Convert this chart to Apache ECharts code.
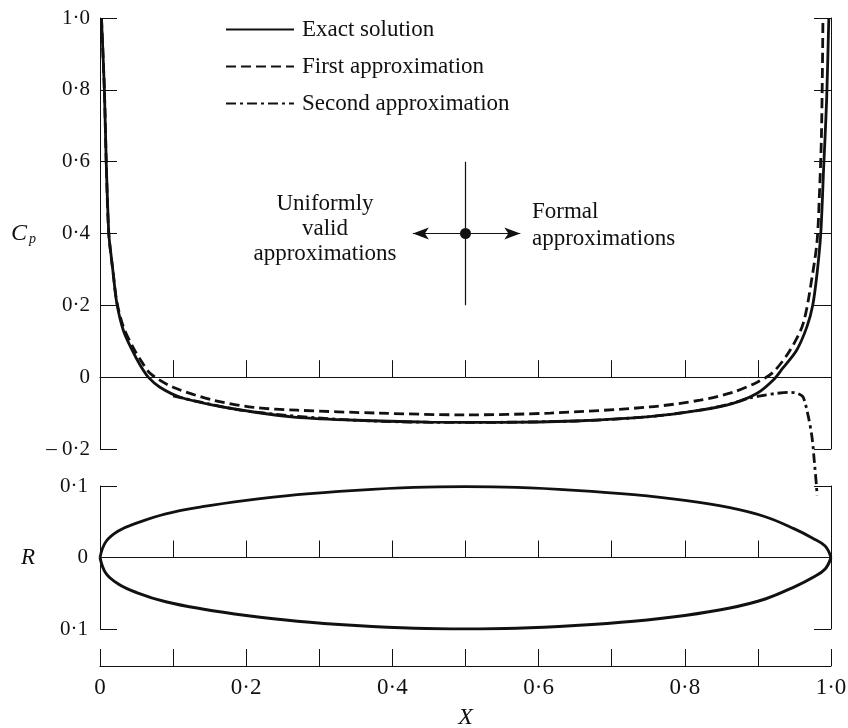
<!DOCTYPE html>
<html>
<head>
<meta charset="utf-8">
<script src="https://cdn.jsdelivr.net/npm/echarts@6/dist/echarts.min.js"></script>
<style>
  html, body { margin: 0; padding: 0; background: #fff; }
  #chart { width: 848px; height: 728px; }
</style>
</head>
<body>
<div id="chart"></div>
<script>
// pressure coefficient curves
const exactX = [0.002, 0.006, 0.0085, 0.012, 0.014, 0.018, 0.023, 0.032, 0.044, 0.055, 0.066, 0.082, 0.11, 0.155, 0.21, 0.265, 0.35, 0.45, 0.55, 0.65, 0.752, 0.821, 0.866, 0.899, 0.921, 0.934, 0.953, 0.967, 0.975, 0.981, 0.986, 0.99, 0.994, 0.997];
const exactCp = [1.0, 0.8, 0.6, 0.4, 0.36, 0.29, 0.206, 0.13, 0.075, 0.033, 0.0, -0.028, -0.056, -0.078, -0.097, -0.111, -0.12, -0.125, -0.126, -0.122, -0.11, -0.092, -0.073, -0.045, -0.008, 0.025, 0.075, 0.14, 0.2, 0.29, 0.4, 0.585, 0.77, 1.0];

const firstX = [0.002, 0.006, 0.0085, 0.012, 0.018, 0.023, 0.032, 0.046, 0.057, 0.069, 0.1, 0.155, 0.21, 0.27, 0.38, 0.5, 0.616, 0.752, 0.821, 0.866, 0.899, 0.921, 0.944, 0.962, 0.975, 0.981, 0.984, 0.987, 0.989];
const firstCp = [1.0, 0.8, 0.6, 0.4, 0.29, 0.21, 0.14, 0.08, 0.043, 0.01, -0.028, -0.064, -0.084, -0.092, -0.1, -0.105, -0.1, -0.083, -0.064, -0.042, -0.014, 0.014, 0.075, 0.15, 0.29, 0.38, 0.5, 0.68, 1.0];

const secondX = [0.1, 0.2, 0.35, 0.5, 0.65, 0.752, 0.821, 0.844, 0.866, 0.889, 0.91, 0.926, 0.944, 0.955, 0.962, 0.969, 0.974, 0.977, 0.98, 0.981];
const secondCp = [-0.052, -0.094, -0.12, -0.126, -0.122, -0.11, -0.092, -0.083, -0.072, -0.058, -0.05, -0.045, -0.042, -0.046, -0.056, -0.11, -0.167, -0.23, -0.3, -0.33];

// body radius
const rX = [0, 0.008, 0.025, 0.05, 0.09, 0.14, 0.2, 0.27, 0.35, 0.43, 0.5, 0.57, 0.65, 0.73, 0.8, 0.86, 0.91, 0.95, 0.975, 0.992, 1.0];
const rUpper = [0, 0.022, 0.037, 0.048, 0.061, 0.071, 0.08, 0.088, 0.094, 0.098, 0.099, 0.098, 0.094, 0.088, 0.08, 0.07, 0.057, 0.04, 0.027, 0.016, 0];
const rLower = [0, -0.022, -0.037, -0.049, -0.062, -0.072, -0.081, -0.089, -0.095, -0.099, -0.1, -0.099, -0.095, -0.089, -0.081, -0.071, -0.058, -0.041, -0.028, -0.016, 0];

// the cross in the middle of the Cp panel
const crossV = [[0.5, 0.2], [0.5, 0.6]];
const crossDot = [0.5, 0.4];
const arrowEnds = [0.428, 0.575];

const xTickLabels = ['0', '0·2', '0·4', '0·6', '0·8', '1·0'];

const FONT = '"Liberation Serif", "Times New Roman", serif';
const INK = '#111';

function dotNum(v) {
  if (Math.abs(v) < 1e-9) return '0';
  return Math.abs(v).toFixed(1).replace('.', '·');
}
function zip(xs, ys) { return xs.map((x, i) => [x, ys[i]]); }

const tick = { show: true, inside: true, length: 17, lineStyle: { color: INK, width: 1 } };
const line = { show: true, lineStyle: { color: INK, width: 1 } };

const chart = echarts.init(document.getElementById('chart'), null, { renderer: 'canvas' });

const option = {
  animation: false,
  backgroundColor: '#fff',
  legend: {
    data: ['Exact solution', 'First approximation', 'Second approximation'],
    orient: 'vertical',
    left: 220,
    top: 13,
    itemWidth: 68,
    itemHeight: 14,
    itemGap: 14,
    itemStyle: { opacity: 0 },
    textStyle: { fontFamily: FONT, fontSize: 23, color: INK, padding: [0, 0, 0, 3] },
    selectedMode: false
  },
  grid: [
    { left: 100, top: 18, width: 731, height: 431, outerBoundsMode: 'none' },
    { left: 100, top: 486, width: 731, height: 143, outerBoundsMode: 'none' },
    { left: 100, top: 566, width: 731, height: 100, outerBoundsMode: 'none' }
  ],
  xAxis: [
    { gridIndex: 0, type: 'value', min: 0, max: 1, interval: 0.1,
      axisLine: Object.assign({ onZero: true }, line), axisTick: tick,
      axisLabel: { show: false }, splitLine: { show: false } },
    { gridIndex: 1, type: 'value', min: 0, max: 1, interval: 0.1,
      axisLine: Object.assign({ onZero: true }, line), axisTick: tick,
      axisLabel: { show: false }, splitLine: { show: false } },
    { gridIndex: 2, type: 'value', min: 0, max: 1, interval: 0.1, position: 'bottom',
      axisLine: Object.assign({ onZero: false }, line), axisTick: tick,
      axisLabel: {
        margin: 10, fontFamily: FONT, fontSize: 23, color: INK,
        formatter: v => {
          const k = Math.round(v * 10);
          return k % 2 === 0 ? xTickLabels[k / 2] : '';
        }
      },
      splitLine: { show: false },
      name: 'X', nameLocation: 'middle', nameGap: 40,
      nameTextStyle: { fontFamily: FONT, fontSize: 24, fontStyle: 'italic', color: INK } }
  ],
  yAxis: [
    { gridIndex: 0, type: 'value', min: -0.2, max: 1.0, interval: 0.2, position: 'left',
      axisLine: Object.assign({ onZero: false }, line), axisTick: tick,
      axisLabel: { margin: 10, fontFamily: FONT, fontSize: 21, color: INK,
        formatter: v => (v < -1e-9 ? '– ' : '') + dotNum(v) },
      splitLine: { show: false },
      name: '{c|C}{p|p}', nameLocation: 'middle', nameGap: 64, nameRotate: 0,
      nameTextStyle: { rich: {
        c: { fontFamily: FONT, fontSize: 24, fontStyle: 'italic', color: INK },
        p: { fontFamily: FONT, fontSize: 14, fontStyle: 'italic', color: INK, padding: [12, 0, 0, 2] }
      } } },
    { gridIndex: 0, type: 'value', min: -0.2, max: 1.0, interval: 0.2, position: 'right',
      axisLine: Object.assign({ onZero: false }, line), axisTick: tick,
      axisLabel: { show: false }, splitLine: { show: false } },
    { gridIndex: 1, type: 'value', min: -0.1, max: 0.1, interval: 0.1, position: 'left',
      axisLine: Object.assign({ onZero: false }, line), axisTick: tick,
      axisLabel: { margin: 12, fontFamily: FONT, fontSize: 21, color: INK, formatter: dotNum },
      splitLine: { show: false },
      name: 'R', nameLocation: 'middle', nameGap: 65, nameRotate: 0,
      nameTextStyle: { fontFamily: FONT, fontSize: 23, fontStyle: 'italic', color: INK } },
    { gridIndex: 1, type: 'value', min: -0.1, max: 0.1, interval: 0.1, position: 'right',
      axisLine: Object.assign({ onZero: false }, line), axisTick: tick,
      axisLabel: { show: false }, splitLine: { show: false } },
    { gridIndex: 2, type: 'value', min: 0, max: 1, show: false }
  ],
  graphic: [
    { type: 'text', x: 325, y: 229, silent: true,
      style: { text: 'Uniformly\nvalid\napproximations', font: '23px ' + FONT, fill: INK,
        textAlign: 'center', textVerticalAlign: 'middle', lineHeight: 25 } },
    { type: 'text', x: 532, y: 225, silent: true,
      style: { text: 'Formal\napproximations', font: '23px ' + FONT, fill: INK,
        textAlign: 'left', textVerticalAlign: 'middle', lineHeight: 27 } }
  ],
  series: [
    { name: 'Second approximation', type: 'line', xAxisIndex: 0, yAxisIndex: 0,
      data: zip(secondX, secondCp), smooth: 0.3, symbol: 'none', clip: false, z: 2,
      lineStyle: { color: INK, width: 2.8, type: [10, 4, 3, 4] } },
    { name: 'First approximation', type: 'line', xAxisIndex: 0, yAxisIndex: 0,
      data: zip(firstX, firstCp), smooth: 0.3, symbol: 'none', z: 3,
      lineStyle: { color: INK, width: 2.8, type: [10, 5] } },
    { name: 'Exact solution', type: 'line', xAxisIndex: 0, yAxisIndex: 0,
      data: zip(exactX, exactCp), smooth: 0.3, symbol: 'none', z: 4,
      lineStyle: { color: INK, width: 2.8 } },
    { name: 'cross', type: 'line', xAxisIndex: 0, yAxisIndex: 0, data: crossV, symbol: 'none',
      silent: true, lineStyle: { color: INK, width: 1.2 } },
    { name: 'dot', type: 'scatter', xAxisIndex: 0, yAxisIndex: 0, data: [crossDot],
      symbolSize: 11, itemStyle: { color: INK, opacity: 1 }, silent: true,
      markLine: {
        silent: true, symbol: ['none', 'arrow'], symbolSize: [9, 16],
        label: { show: false },
        lineStyle: { color: INK, width: 1.2, type: 'solid' },
        data: arrowEnds.map(x => [{ coord: crossDot }, { coord: [x, crossDot[1]] }])
      } },
    { name: 'R upper', type: 'line', xAxisIndex: 1, yAxisIndex: 2,
      data: zip(rX, rUpper), smooth: 0.4, symbol: 'none',
      lineStyle: { color: INK, width: 2.8 } },
    { name: 'R lower', type: 'line', xAxisIndex: 1, yAxisIndex: 2,
      data: zip(rX, rLower), smooth: 0.4, symbol: 'none',
      lineStyle: { color: INK, width: 3 } }
  ]
};

chart.setOption(option);
</script>
</body>
</html>
